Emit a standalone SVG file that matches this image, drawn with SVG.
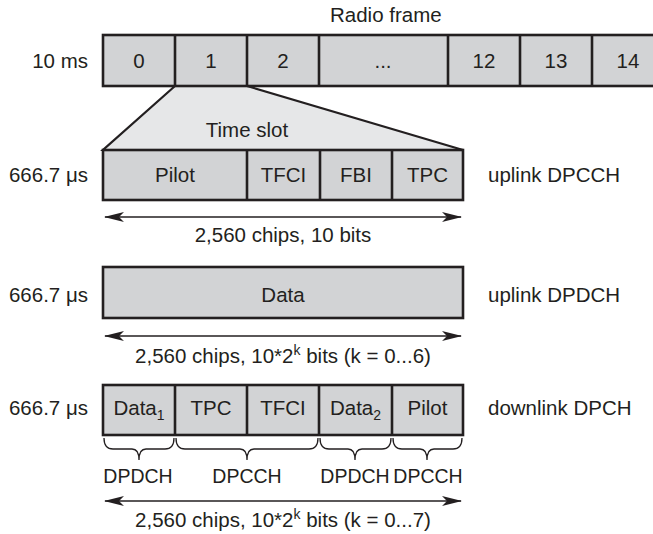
<svg xmlns="http://www.w3.org/2000/svg" width="653" height="534" viewBox="0 0 653 534">
<style>
text{font-family:"Liberation Sans",Arial,sans-serif;font-size:20.5px;fill:#231f20}
.c{text-anchor:middle}
.e{text-anchor:end}
.lbl{font-size:19.5px}
.box{fill:#d2d3d5;stroke:#231f20;stroke-width:2.6}
.div{stroke:#231f20;stroke-width:2.6}
.trap{fill:#e6e7e8;stroke:#231f20;stroke-width:2.2;stroke-linejoin:miter}
.arr{stroke:#231f20;stroke-width:1.5;fill:none;marker-start:url(#ah);marker-end:url(#ah)}
.brace{stroke:#231f20;stroke-width:1.3;fill:none}
.sub{font-size:14px}
</style>
<defs>
<marker id="ah" viewBox="0 0 20 10" refX="19" refY="5" markerWidth="20" markerHeight="10" markerUnits="userSpaceOnUse" orient="auto-start-reverse">
<path d="M0,0 L20,5 L0,10 L5,5 Z" fill="#231f20"/>
</marker>
</defs>

<g id="connectors">
<path class="trap" d="M175,86 L103,150 L463,150 L247,86 Z"/>
<line class="arr" x1="105" y1="217" x2="461" y2="217"/>
<line class="arr" x1="105" y1="336" x2="461" y2="336"/>
<line class="arr" x1="105" y1="501" x2="461" y2="501"/>
<path class="brace" d="M104,438 Q104,449 113,449 L132,449 Q139,449 139,460 Q139,449 146,449 L165,449 Q174,449 174,438"/>
<path class="brace" d="M176,438 Q176,449 185,449 L240,449 Q247,449 247,460 Q247,449 254,449 L309,449 Q318,449 318,438"/>
<path class="brace" d="M320,438 Q320,449 329,449 L348,449 Q355,449 355,460 Q355,449 362,449 L382,449 Q391,449 391,438"/>
<path class="brace" d="M393,438 Q393,449 402,449 L420,449 Q427,449 427,460 Q427,449 434,449 L453,449 Q462,449 462,438"/>
</g>

<g id="radio-frame">
<text x="330" y="22">Radio frame</text>
<text class="e" x="88" y="68">10 ms</text>
<rect class="box" x="103" y="35" width="565" height="51"/>
<line class="div" x1="175" y1="35" x2="175" y2="86"/>
<line class="div" x1="247" y1="35" x2="247" y2="86"/>
<line class="div" x1="319" y1="35" x2="319" y2="86"/>
<line class="div" x1="448" y1="35" x2="448" y2="86"/>
<line class="div" x1="520" y1="35" x2="520" y2="86"/>
<line class="div" x1="592" y1="35" x2="592" y2="86"/>
<text class="c" x="139" y="68">0</text>
<text class="c" x="211" y="68">1</text>
<text class="c" x="283" y="68">2</text>
<text class="c" x="383" y="68">...</text>
<text class="c" x="484" y="68">12</text>
<text class="c" x="556" y="68">13</text>
<text class="c" x="628" y="68">14</text>
</g>

<g id="uplink-dpcch">
<text class="c" x="247" y="137">Time slot</text>
<text class="e" x="88" y="182">666.7 μs</text>
<rect class="box" x="103" y="150" width="360" height="50"/>
<line class="div" x1="247" y1="150" x2="247" y2="200"/>
<line class="div" x1="320" y1="150" x2="320" y2="200"/>
<line class="div" x1="392" y1="150" x2="392" y2="200"/>
<text class="c" x="175" y="182">Pilot</text>
<text class="c" x="283.5" y="182">TFCI</text>
<text class="c" x="356" y="182">FBI</text>
<text class="c" x="427.5" y="182">TPC</text>
<text x="488" y="182">uplink DPCCH</text>
<text class="c" x="283" y="242">2,560 chips, 10 bits</text>
</g>

<g id="uplink-dpdch">
<text class="e" x="88" y="302">666.7 μs</text>
<rect class="box" x="103" y="267" width="360" height="51"/>
<text class="c" x="283" y="302">Data</text>
<text x="488" y="302">uplink DPDCH</text>
<text class="c" x="283" y="363">2,560 chips, 10*2<tspan class="sub" dy="-8">k</tspan><tspan dy="8"> bits (k = 0...6)</tspan></text>
</g>

<g id="downlink-dpch">
<text class="e" x="88" y="415">666.7 μs</text>
<rect class="box" x="103" y="385" width="360" height="50"/>
<line class="div" x1="175" y1="385" x2="175" y2="435"/>
<line class="div" x1="247" y1="385" x2="247" y2="435"/>
<line class="div" x1="319" y1="385" x2="319" y2="435"/>
<line class="div" x1="392" y1="385" x2="392" y2="435"/>
<text class="c" x="139" y="415">Data<tspan class="sub" dy="5">1</tspan></text>
<text class="c" x="211" y="415">TPC</text>
<text class="c" x="283" y="415">TFCI</text>
<text class="c" x="355.5" y="415">Data<tspan class="sub" dy="5">2</tspan></text>
<text class="c" x="427.5" y="415">Pilot</text>
<text x="488" y="415">downlink DPCH</text>
<text class="c lbl" x="138" y="483">DPDCH</text>
<text class="c lbl" x="247" y="483">DPCCH</text>
<text class="c lbl" x="355" y="483">DPDCH</text>
<text class="c lbl" x="428" y="483">DPCCH</text>
<text class="c" x="283" y="527">2,560 chips, 10*2<tspan class="sub" dy="-8">k</tspan><tspan dy="8"> bits (k = 0...7)</tspan></text>
</g>
</svg>
